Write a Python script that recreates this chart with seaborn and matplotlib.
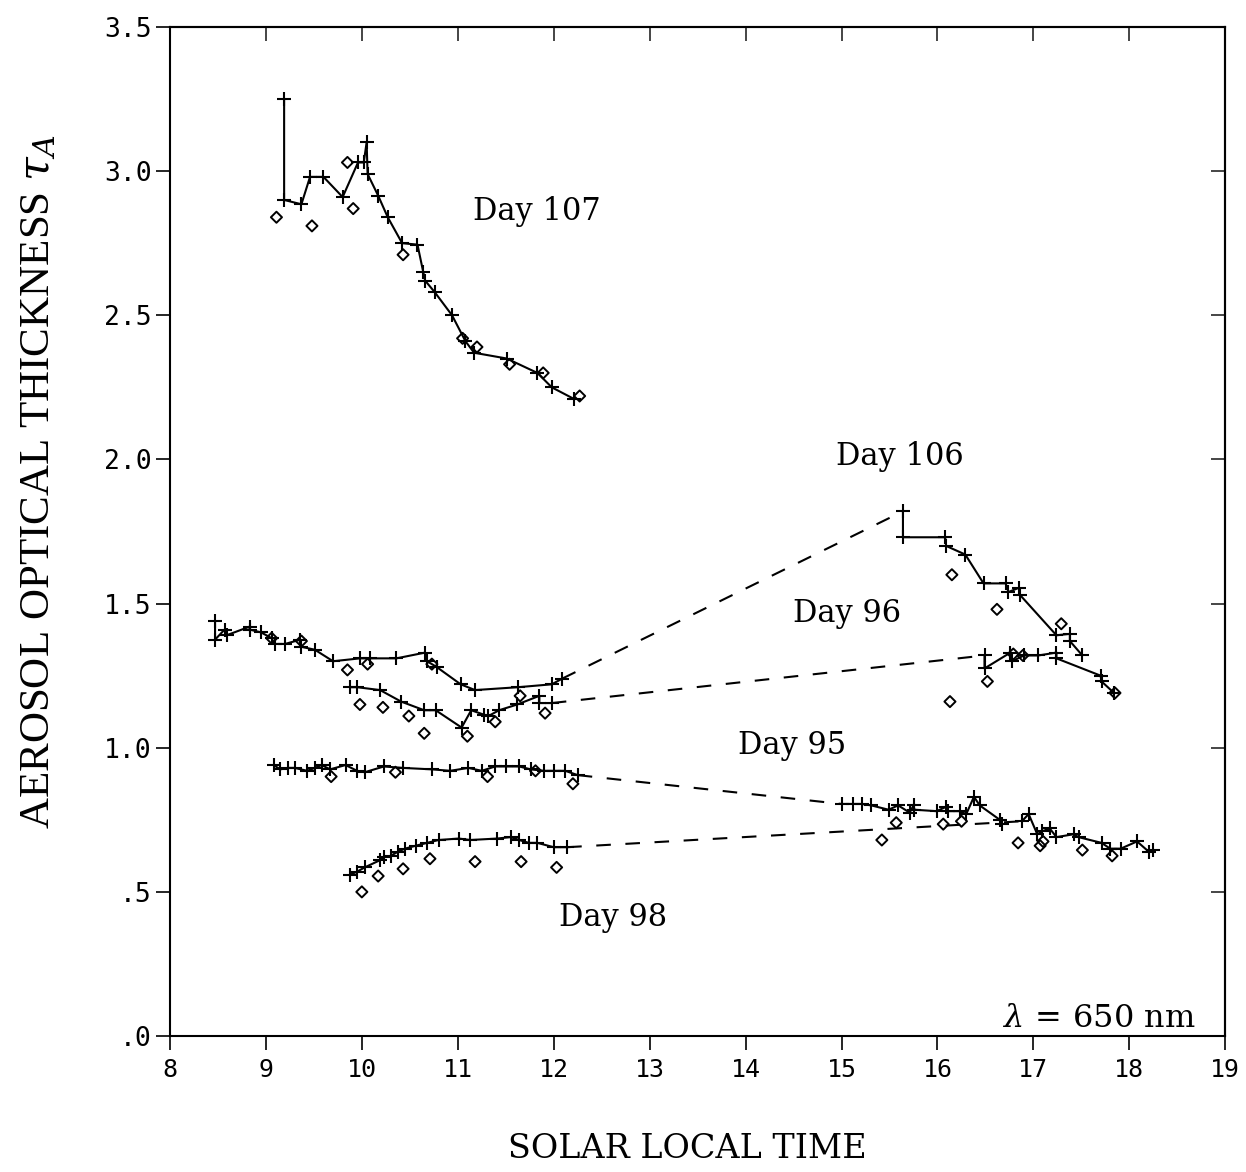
import matplotlib
matplotlib.use("Agg")
import matplotlib.pyplot as plt
import seaborn as sns
import numpy as np
import pandas as pd

# ── Data (hours, optical thickness) ─────────────────────────────────────────
# Day 107 (morning only)
d107_t   = [9.19, 9.19, 9.37, 9.46, 9.60, 9.80, 9.96, 10.02, 10.05, 10.06, 10.17, 10.27,
            10.42, 10.58, 10.64, 10.66, 10.76, 10.94, 11.08, 11.17, 11.51, 11.83, 11.98, 12.21]
d107_tau = [3.25, 2.90, 2.885, 2.98, 2.98, 2.91, 3.03, 3.03, 3.10, 2.99, 2.915, 2.84,
            2.75, 2.745, 2.65, 2.62, 2.58, 2.50, 2.41, 2.37, 2.35, 2.30, 2.25, 2.21]
d107_dt   = [9.11, 9.48, 9.85, 9.91, 10.43, 11.05, 11.20, 11.54, 11.89, 12.27]
d107_dtau = [2.84, 2.81, 3.03, 2.87, 2.71, 2.42, 2.39, 2.33, 2.30, 2.22]

# Day 106
d106_am_t   = [8.47, 8.47, 8.57, 8.59, 8.83, 8.83, 8.95, 9.06, 9.09, 9.20, 9.36, 9.37, 9.51,
               9.70, 9.98, 10.09, 10.36, 10.66, 10.68, 10.78, 11.03, 11.18, 11.63, 11.98, 12.09]
d106_am_tau = [1.44, 1.375, 1.41, 1.39, 1.42, 1.41, 1.40, 1.38, 1.36, 1.36, 1.375, 1.35, 1.34,
               1.30, 1.31, 1.31, 1.31, 1.33, 1.30, 1.28, 1.22, 1.20, 1.21, 1.22, 1.24]
d106_pm_t   = [15.64, 15.64, 16.08, 16.09, 16.29, 16.48, 16.71, 16.74, 16.85, 16.86,
               17.24, 17.38, 17.38, 17.51]
d106_pm_tau = [1.82, 1.73, 1.73, 1.70, 1.67, 1.57, 1.57, 1.54, 1.555, 1.53,
               1.39, 1.395, 1.37, 1.32]
d106_dt   = [9.06, 9.37, 9.85, 10.06, 10.73, 11.65, 16.15, 16.62, 17.29]
d106_dtau = [1.38, 1.37, 1.27, 1.29, 1.29, 1.18, 1.60, 1.48, 1.43]

# Day 96
d96_am_t   = [9.88, 9.95, 10.19, 10.41, 10.65, 10.77, 11.04, 11.14, 11.27, 11.32, 11.43,
              11.62, 11.85, 11.85, 11.98]
d96_am_tau = [1.21, 1.21, 1.20, 1.16, 1.13, 1.13, 1.07, 1.13, 1.115, 1.11, 1.13,
              1.15, 1.18, 1.155, 1.155]
d96_pm_t   = [16.49, 16.49, 16.76, 16.78, 16.90, 17.05, 17.24, 17.24, 17.70, 17.71, 17.84]
d96_pm_tau = [1.32, 1.275, 1.33, 1.30, 1.32, 1.32, 1.33, 1.31, 1.25, 1.23, 1.19]
d96_dt   = [9.98, 10.22, 10.49, 10.65, 11.10, 11.39, 11.91, 16.13, 16.52, 16.79, 16.89, 17.85]
d96_dtau = [1.15, 1.14, 1.11, 1.05, 1.04, 1.09, 1.12, 1.16, 1.23, 1.325, 1.32, 1.19]

# Day 95
d95_am_t   = [9.08, 9.15, 9.23, 9.30, 9.43, 9.51, 9.58, 9.67, 9.83, 9.95, 10.03, 10.23,
              10.43, 10.73, 10.92, 11.11, 11.25, 11.39, 11.50, 11.64, 11.76, 11.90,
              12.00, 12.12, 12.25]
d95_am_tau = [0.94, 0.925, 0.93, 0.93, 0.92, 0.93, 0.94, 0.925, 0.94, 0.92, 0.915, 0.935,
              0.93, 0.925, 0.92, 0.93, 0.92, 0.935, 0.935, 0.935, 0.925, 0.92,
              0.92, 0.92, 0.905]
d95_pm_t   = [15.00, 15.12, 15.21, 15.31, 15.49, 15.59, 15.71, 15.75, 15.76, 15.99, 16.09,
              16.11, 16.23, 16.30, 16.38, 16.44, 16.65, 16.67]
d95_pm_tau = [0.805, 0.805, 0.805, 0.80, 0.785, 0.80, 0.775, 0.80, 0.785, 0.78, 0.795,
              0.78, 0.78, 0.77, 0.83, 0.80, 0.75, 0.735]
d95_dt   = [9.68, 10.35, 11.31, 11.81, 12.20, 15.42, 15.57, 16.06, 16.25]
d95_dtau = [0.90, 0.915, 0.90, 0.92, 0.875, 0.68, 0.74, 0.735, 0.745]

# Day 98
d98_am_t   = [9.88, 9.95, 10.03, 10.19, 10.23, 10.30, 10.38, 10.45, 10.56, 10.68, 10.80,
              11.01, 11.13, 11.41, 11.55, 11.64, 11.74, 11.83, 12.00, 12.14]
d98_am_tau = [0.56, 0.57, 0.585, 0.61, 0.62, 0.625, 0.64, 0.65, 0.66, 0.67, 0.68,
              0.685, 0.68, 0.685, 0.69, 0.68, 0.67, 0.67, 0.655, 0.655]
d98_pm_t   = [16.88, 16.95, 17.04, 17.09, 17.17, 17.24, 17.42, 17.47, 17.71, 17.80,
              17.91, 18.08, 18.20, 18.25]
d98_pm_tau = [0.745, 0.77, 0.70, 0.71, 0.72, 0.69, 0.70, 0.69, 0.67, 0.65,
              0.65, 0.675, 0.64, 0.645]
d98_dt   = [10.00, 10.17, 10.43, 10.71, 11.18, 11.66, 12.03, 16.84, 17.07, 17.10, 17.51, 17.82]
d98_dtau = [0.50, 0.555, 0.58, 0.615, 0.605, 0.605, 0.585, 0.67, 0.66, 0.675, 0.645, 0.625]

# ── Style ───────────────────────────────────────────────────────────────────
sns.set_style("ticks")
plt.rcParams["mathtext.fontset"] = "dejavuserif"
INK = "black"

fig = plt.figure(figsize=(12.46, 11.72), dpi=100, facecolor="white")
ax = fig.add_axes([0.1364, 0.116, 0.847, 0.861])

line_kw  = dict(color=INK, linewidth=1.5, marker="+", markersize=10,
                markeredgewidth=1.5, markeredgecolor=INK, markerfacecolor=INK,
                sort=False, estimator=None, legend=False)
diam_kw  = dict(marker="D", s=32, facecolor="none", edgecolor=INK,
                linewidth=1.4, legend=False)
dash_kw  = dict(color=INK, linewidth=1.5, linestyle=(0, (7, 7)),
                sort=False, estimator=None, legend=False)

segments = [
    (d107_t, d107_tau),
    (d106_am_t, d106_am_tau), (d106_pm_t, d106_pm_tau),
    (d96_am_t, d96_am_tau), (d96_pm_t, d96_pm_tau),
    (d95_am_t, d95_am_tau), (d95_pm_t, d95_pm_tau),
    (d98_am_t, d98_am_tau), (d98_pm_t, d98_pm_tau),
]
for t, tau in segments:
    sns.lineplot(x=t, y=tau, ax=ax, **line_kw)

# dashed links between morning and afternoon runs
gaps = [
    (d106_am_t, d106_am_tau, d106_pm_t, d106_pm_tau),
    (d96_am_t, d96_am_tau, d96_pm_t, d96_pm_tau),
    (d95_am_t, d95_am_tau, d95_pm_t, d95_pm_tau),
    (d98_am_t, d98_am_tau, d98_pm_t, d98_pm_tau),
]
for t0, y0, t1, y1 in gaps:
    sns.lineplot(x=[t0[-1], t1[0]], y=[y0[-1], y1[0]], ax=ax, **dash_kw)

for t, tau in [(d107_dt, d107_dtau), (d106_dt, d106_dtau), (d96_dt, d96_dtau),
               (d95_dt, d95_dtau), (d98_dt, d98_dtau)]:
    sns.scatterplot(x=t, y=tau, ax=ax, **diam_kw)

# ── Axes ────────────────────────────────────────────────────────────────────
ax.set_xlim(8, 19)
ax.set_ylim(0, 3.5)
ax.set_xticks(np.arange(8, 20))
ax.set_xticklabels([str(h) for h in range(8, 20)], family="DejaVu Sans Mono",
                   fontsize=18)
yt = np.arange(0, 3.51, 0.5)
ax.set_yticks(yt)
ax.set_yticklabels([f"{v:.1f}".lstrip("0") if v < 1 else f"{v:.1f}" for v in yt],
                   family="DejaVu Sans Mono", fontsize=19)
ax.tick_params(axis="both", direction="out", length=10, width=1.2, color=INK,
               labelcolor=INK)
ax.tick_params(axis="x", pad=6)
ax.tick_params(axis="y", pad=3)
for sp in ax.spines.values():
    sp.set_visible(True)
    sp.set_linewidth(1.5)
    sp.set_color(INK)

sec_y = ax.secondary_yaxis("right")
sec_y.set_yticks(yt[1:-1])
sec_y.tick_params(direction="in", length=10, width=1.2, labelright=False)
sec_y.spines["right"].set_linewidth(1.5)
sec_x = ax.secondary_xaxis("top")
sec_x.set_xticks(np.arange(9, 19))
sec_x.tick_params(direction="in", length=10, width=1.2, labeltop=False)
sec_x.spines["top"].set_linewidth(1.5)

ax.set_xlabel("SOLAR LOCAL TIME", family="DejaVu Serif", fontsize=24, color=INK)
ax.xaxis.set_label_coords(0.49, -0.096)
ax.set_ylabel(r"AEROSOL OPTICAL THICKNESS $\tau_A$", family="Liberation Serif",
              fontsize=31, color=INK)
ax.yaxis.set_label_coords(-0.106, 0.549)

# ── Annotations ─────────────────────────────────────────────────────────────
lbl = dict(family="DejaVu Serif", fontsize=22, color=INK, ha="center", va="center")
ax.text(11.82, 2.86, "Day 107", **lbl)
ax.text(15.61, 2.01, "Day 106", **lbl)
ax.text(15.06, 1.465, "Day 96", **lbl)
ax.text(14.49, 1.007, "Day 95", **lbl)
ax.text(12.62, 0.41, "Day 98", **lbl)
ax.text(18.69, 0.06, r"$\lambda\, =\, 650$ nm", family="DejaVu Serif", fontsize=23,
        color=INK, ha="right", va="center")

fig.savefig("out.png", dpi=100, facecolor="white")
